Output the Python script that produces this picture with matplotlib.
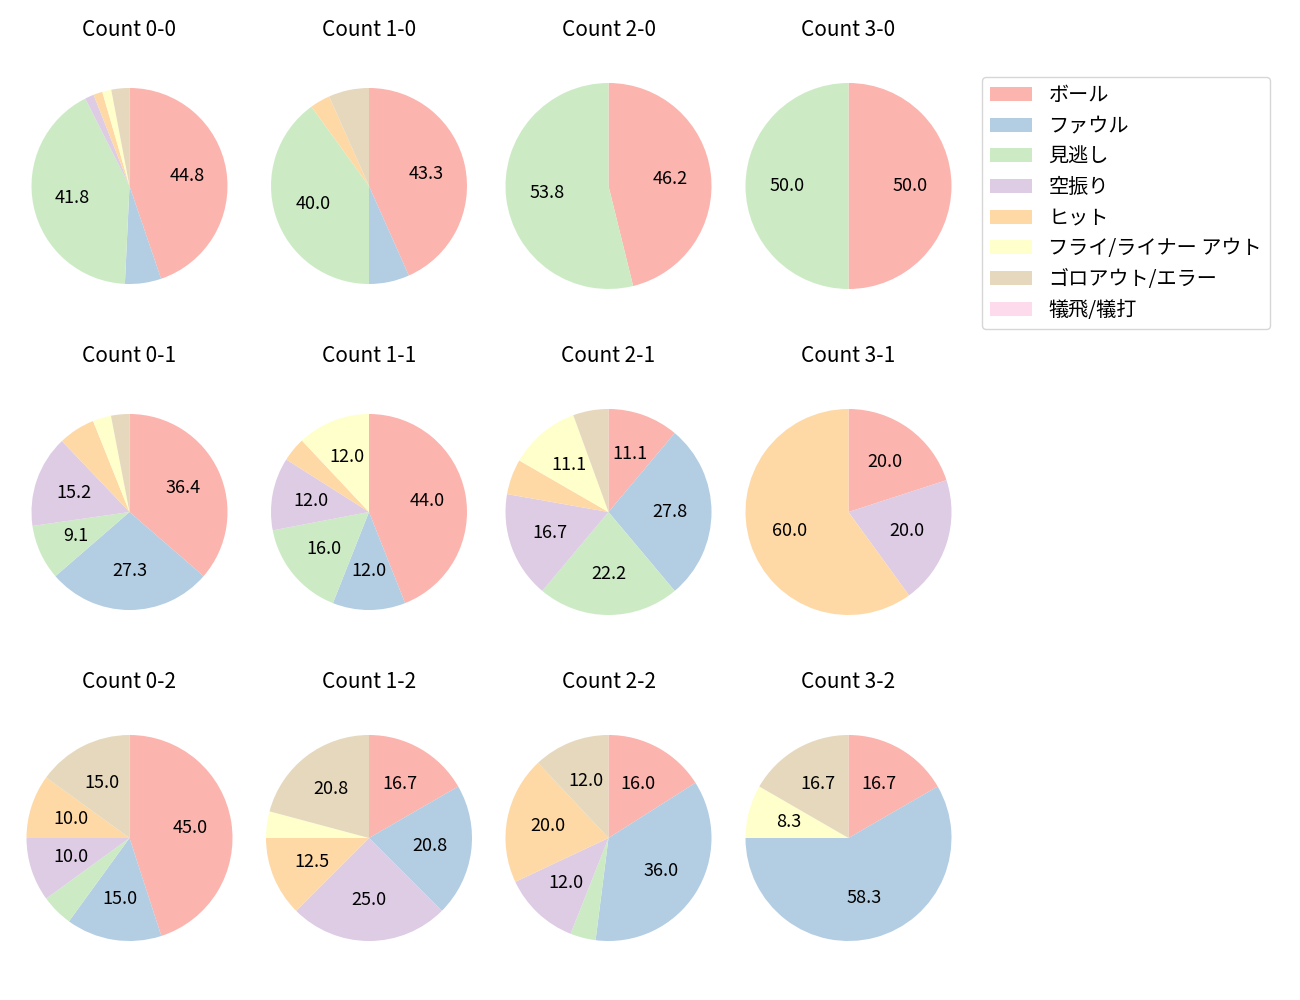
import matplotlib
matplotlib.use("Agg")
import matplotlib.pyplot as plt
from matplotlib.patches import Patch

plt.rcParams['font.family'] = ['Noto Sans CJK JP', 'DejaVu Sans']

categories = ['ボール', 'ファウル', '見逃し', '空振り', 'ヒット',
              'フライ/ライナー アウト', 'ゴロアウト/エラー', '犠飛/犠打']
colors = ['#fbb4ae', '#b3cde3', '#ccebc5', '#decbe4', '#fed9a6',
          '#ffffcc', '#e5d8bd', '#fddaec']

titles = ['Count 0-0', 'Count 1-0', 'Count 2-0', 'Count 3-0',
          'Count 0-1', 'Count 1-1', 'Count 2-1', 'Count 3-1',
          'Count 0-2', 'Count 1-2', 'Count 2-2', 'Count 3-2']

count_0_0 = [30, 4, 28, 1, 1, 1, 2, 0]
count_1_0 = [13, 2, 12, 0, 1, 0, 2, 0]
count_2_0 = [6, 0, 7, 0, 0, 0, 0, 0]
count_3_0 = [1, 0, 1, 0, 0, 0, 0, 0]
count_0_1 = [12, 9, 3, 5, 2, 1, 1, 0]
count_1_1 = [11, 3, 4, 3, 1, 3, 0, 0]
count_2_1 = [2, 5, 4, 3, 1, 2, 1, 0]
count_3_1 = [1, 0, 0, 1, 3, 0, 0, 0]
count_0_2 = [9, 3, 1, 2, 2, 0, 3, 0]
count_1_2 = [4, 5, 0, 6, 3, 1, 5, 0]
count_2_2 = [4, 9, 1, 3, 5, 0, 3, 0]
count_3_2 = [2, 7, 0, 0, 0, 1, 2, 0]

all_counts = [count_0_0, count_1_0, count_2_0, count_3_0,
              count_0_1, count_1_1, count_2_1, count_3_1,
              count_0_2, count_1_2, count_2_2, count_3_2]

W, H = 1300, 1000
fig = plt.figure(figsize=(13, 10), dpi=100)

col_cx = [129.5, 369.0, 608.5, 848.5]
row_cy = [186.0, 512.0, 838.0]
radius_px = [98, 98, 103, 103,
             98, 98, 103, 103,
             103, 103, 103, 103]
ax_w, ax_h = 236.0, 284.0


def autopct(p):
    return f'{p:.1f}' if p > 7 else ''


for i, (vals, title) in enumerate(zip(all_counts, titles)):
    r, c = divmod(i, 4)
    cx, cy = col_cx[c], row_cy[r]
    ax = fig.add_axes([(cx - ax_w / 2) / W, 1 - (cy + ax_h / 2) / H,
                       ax_w / W, ax_h / H])
    ax.pie(vals, colors=colors, startangle=90, counterclock=False,
           autopct=autopct, pctdistance=0.6,
           textprops={'fontsize': 13})
    rp = radius_px[i]
    ax.set_xlim(-ax_w / 2 / rp, ax_w / 2 / rp)
    ax.set_ylim(-ax_h / 2 / rp, ax_h / 2 / rp)
    ax.set_title(title, fontsize=15, pad=6)

handles = [Patch(facecolor=col, label=lab) for col, lab in zip(colors, categories)]
fig.legend(handles=handles, loc='upper left',
           bbox_to_anchor=(982 / W, 1 - 77 / H), borderaxespad=0,
           fontsize=14.5, handlelength=2.1, labelspacing=0.48, frameon=True)

fig.savefig('out.png', dpi=100)
